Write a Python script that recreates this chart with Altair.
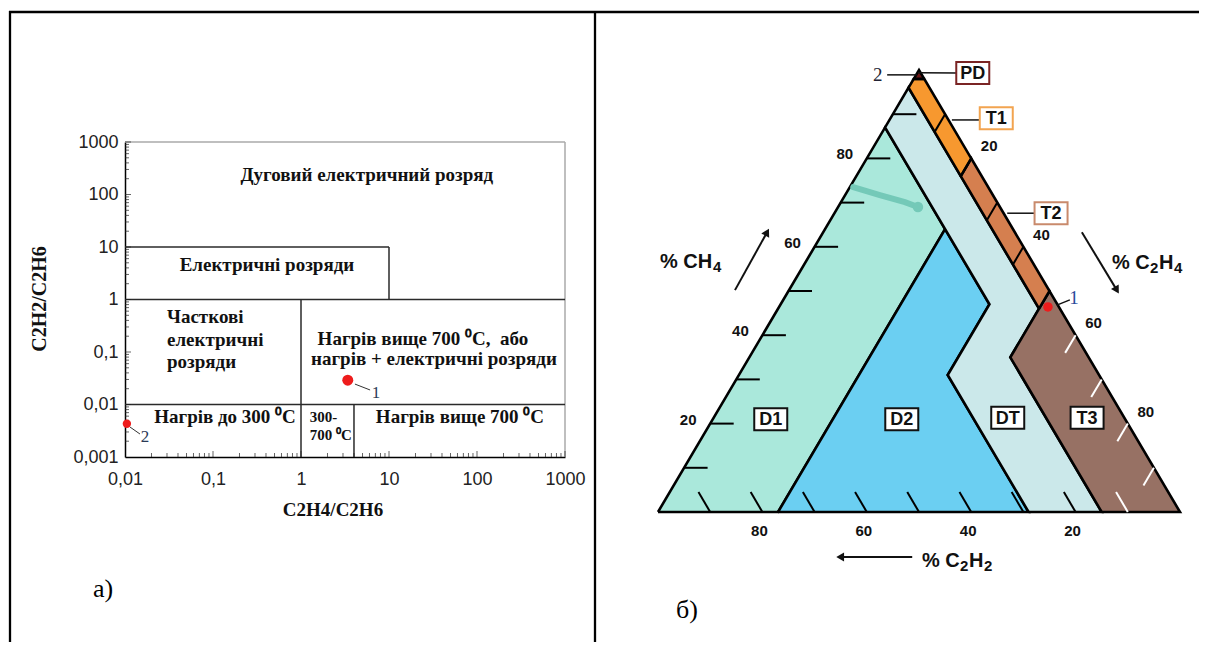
import altair as alt
import pandas as pd

W, H = 1191, 634
M = 8  # page margin

# ---------------- table frame and captions (page pixel space) ----------------
FRAME_X1 = [9, 10, 595]
FRAME_X2 = [1207, 10, 595]
FRAME_Y1 = [12, 11, 11]
FRAME_Y2 = [12, 652, 652]
CAPTIONS = ["а)", "б)"]
CAPTION_X = [103, 687]
CAPTION_Y = [589, 610]
A_TITLES = ["C2H4/C2H6", "C2H2/C2H6"]
A_TITLE_X = [333, 40]
A_TITLE_Y = [510, 299]
A_TITLE_ANGLE = [0, 270]
A_TITLE_SIZE = [19, 20]
# ternary axis titles, written as pieces so that the subscripts sit lower
TT_TEXT = ["% CH", "4", "% C", "2", "H", "4", "% C", "2", "H", "2"]
TT_X = [660, 713, 1112, 1150, 1159, 1174, 922, 960, 969, 984]
TT_Y = [262, 267, 263, 268, 263, 268, 561, 566, 561, 566]
TT_SIZE = [20, 15, 20, 15, 20, 15, 20, 15, 20, 15]

# ---------------- panel а): ratio chart ----------------
A_X_MAJOR = [0.01, 0.1, 1, 10, 100, 1000]
A_Y_MAJOR = [0.001, 0.01, 0.1, 1, 10, 100, 1000]
A_X_MINOR = [m * 10.0 ** e for e in range(-2, 3) for m in range(2, 10)]
A_Y_MINOR = [m * 10.0 ** e for e in range(-3, 3) for m in range(2, 10)]

# zone boundaries
BND_X1 = [0.01, 10, 0.01, 1, 0.01, 4]
BND_X2 = [10, 10, 1000, 1, 1000, 4]
BND_Y1 = [10, 1, 1, 0.001, 0.01, 0.001]
BND_Y2 = [10, 10, 1, 1, 0.01, 0.01]
# grey frame (top and right)
BOX_X1 = [0.01, 1000]
BOX_X2 = [1000, 1000]
BOX_Y1 = [1000, 0.001]
BOX_Y2 = [1000, 1000]

# zone names
ZC_TEXT = ["Дуговий електричний розряд", "Електричні розряди",
           "Нагрів вище 700 ⁰C,\u00a0 або", "нагрів + електричні розряди",
           "Нагрів до 300 ⁰C", "Нагрів вище 700 ⁰C"]
ZC_X = [5.6, 0.41, 24.3, 32.4, 0.137, 64]
ZC_Y = [235, 4.5, 0.177, 0.0736, 0.0058, 0.0058]
ZL_TEXT = ["Часткові", "електричні", "розряди", "300-", "700 ⁰C"]
ZL_X = [0.030, 0.030, 0.030, 1.26, 1.26]
ZL_Y = [0.46, 0.17, 0.065, 0.0058, 0.00262]
ZL_SIZE = [19, 19, 19, 15, 15]

# measured points
PT_X = [3.4, 0.0105]
PT_Y = [0.029, 0.0043]
PT_SIZE = [120, 70]
PT_LABEL = ["1", "2"]
PT_LX = [7.1, 0.0169]
PT_LY = [0.0166, 0.0024]
LEAD_X1 = [4.1, 0.0114]
LEAD_Y1 = [0.0245, 0.00372]
LEAD_X2 = [6.1, 0.0148]
LEAD_Y2 = [0.0189, 0.00274]

# ---------------- panel б): Duval triangle, (%CH4, %C2H4) ----------------
ZONE_PD = [(98, 2), (100, 0), (98, 0)]
ZONE_T1 = [(76, 20), (80, 20), (98, 2), (98, 0), (96, 0)]
ZONE_T2 = [(46, 50), (50, 50), (80, 20), (76, 20)]
ZONE_T3 = [(0, 85), (0, 100), (50, 50), (46, 50), (35, 50)]
ZONE_D1 = [(0, 0), (0, 23), (64, 23), (87, 0)]
ZONE_D2 = [(0, 23), (0, 71), (31, 40), (47, 40), (64, 23)]
ZONE_DT = [(0, 71), (0, 85), (35, 50), (46, 50), (96, 0), (87, 0), (47, 40), (31, 40)]
ZONE_NAMES = ["D1", "D2", "DT", "T3", "T2", "T1", "PD"]
ZONE_COLORS = ["#aae8db", "#6bcff2", "#cbe8ea", "#977164", "#d57f4f", "#f7982f", "#6a1515"]

TICKS_CH4 = [10, 20, 30, 40, 50, 60, 70, 80, 90]
TICKS_C2H2 = [10, 20, 30, 40, 50, 60, 70, 80, 90]
TICKS_C2H4 = [10, 20, 30, 40, 60, 70, 80, 90]
TICK_LABELS = [20, 40, 60, 80]

BOX_NAMES = ["D1", "D2", "DT", "T3", "PD", "T1", "T2"]
BOX_X = [21.6, 46.7, 67.0, 82.2, 60.3, 64.8, 75.3]
BOX_Y = [21.0, 21.0, 21.3, 21.3, 99.3, 89.1, 67.6]
BOX_EDGE = ["#111111", "#111111", "#111111", "#111111", "#7a2424", "#f2a450", "#c98a6c"]

ANN_X1 = [43.9, 49.8, 56.3, 66.9, 76.4]
ANN_X2 = [49.6, 57.5, 61.7, 72.2, 78.9]
ANN_Y1 = [98.9, 99.4, 88.7, 67.6, 46.8]
ANN_Y2 = [98.9, 99.3, 88.7, 67.6, 48.0]
ANN_TEXT = ["2", "1"]
ANN_TX = [42.1, 79.7]
ANN_TY = [98.9, 48.4]
ANN_COLOR = ["#222233", "#2a4a9a"]

POINT1_CH4 = [46.4]
POINT1_C2H4 = [51.5]

ARROW_X1 = [14.75, 81.2, 48.7]
ARROW_Y1 = [50.2, 63.3, -10.2]
ARROW_X2 = [20.9, 87.9, 34.9]
ARROW_Y2 = [63.3, 50.2, -10.2]
ARROW_ANGLE = [29, 149, 270]

SMEAR_X = [37.4, 42.5, 47.3, 49.8]
SMEAR_Y = [73.5, 71.7, 70.1, 69.0]

# ======================= canvas layer =======================
XC = alt.Scale(domain=[M, M + W], range=[0, W], nice=False, zero=False)
YC = alt.Scale(domain=[M, M + H], range=[0, H], nice=False, zero=False)


def cx(f):
    return alt.X(f, type="quantitative", scale=XC, axis=None)


def cy(f):
    return alt.Y(f, type="quantitative", scale=YC, axis=None)


frame = alt.Chart(pd.DataFrame({"x1": FRAME_X1, "x2": FRAME_X2, "y1": FRAME_Y1, "y2": FRAME_Y2})).mark_rule(
    color="black", strokeWidth=2.3).encode(x=cx("x1"), x2="x2", y=cy("y1"), y2="y2")
captions = alt.Chart(pd.DataFrame({"t": CAPTIONS, "x": CAPTION_X, "y": CAPTION_Y})).mark_text(
    font="Liberation Serif", fontSize=26, color="black", baseline="middle").encode(
    x=cx("x"), y=cy("y"), text="t:N")
titles = alt.Chart(pd.DataFrame({"t": A_TITLES, "x": A_TITLE_X, "y": A_TITLE_Y, "a": A_TITLE_ANGLE,
                                 "s": A_TITLE_SIZE})).mark_text(
    font="Liberation Serif", fontWeight="bold", color="#111", baseline="middle").encode(
    x=cx("x"), y=cy("y"), text="t:N", angle=alt.Angle("a:Q", scale=None),
    size=alt.Size("s:Q", scale=None))
tern_titles = alt.Chart(pd.DataFrame({"t": TT_TEXT, "x": TT_X, "y": TT_Y, "s": TT_SIZE})).mark_text(
    font="Liberation Sans", fontWeight="bold", color="#111", baseline="middle", align="left").encode(
    x=cx("x"), y=cy("y"), text="t:N", size=alt.Size("s:Q", scale=None))
canvas = alt.layer(frame, captions, titles, tern_titles)

# ======================= panel а) =======================
XA = alt.Scale(type="log", domain=[0.01, 1000], range=[125 - M, 565 - M], nice=False)
YA = alt.Scale(type="log", domain=[0.001, 1000], range=[457 - M, 142 - M], nice=False)
LBL = "replace(format(datum.value, '~g'), '.', ',')"
AX_XA = alt.Axis(orient="bottom", offset=(457 - M) - H, values=A_X_MAJOR, labelExpr=LBL, ticks=False,
                 tickSize=0, domainColor="black", domainWidth=1.5, labelFont="Liberation Sans",
                 labelFontSize=18, labelColor="#222", labelPadding=13, labelFlush=False,
                 labelOverlap=False, grid=False, title=None)
AX_YA = alt.Axis(orient="left", offset=-(125 - M), values=A_Y_MAJOR, labelExpr=LBL, ticks=False,
                 tickSize=0, domainColor="black", domainWidth=1.5, labelFont="Liberation Sans",
                 labelFontSize=18, labelColor="#222", labelPadding=7, labelOverlap=False,
                 grid=False, title=None)


def ax(f):
    return alt.X(f, type="quantitative", scale=XA, axis=AX_XA)


def ay(f):
    return alt.Y(f, type="quantitative", scale=YA, axis=AX_YA)


box_a = alt.Chart(pd.DataFrame({"x1": BOX_X1, "x2": BOX_X2, "y1": BOX_Y1, "y2": BOX_Y2})).mark_rule(
    color="#aaaaaa", strokeWidth=1.5).encode(x=ax("x1"), x2="x2", y=ay("y1"), y2="y2")
bnd = alt.Chart(pd.DataFrame({"x1": BND_X1, "x2": BND_X2, "y1": BND_Y1, "y2": BND_Y2})).mark_rule(
    color="#2a2a2a", strokeWidth=1.5).encode(x=ax("x1"), x2="x2", y=ay("y1"), y2="y2")
xminor = alt.Chart(pd.DataFrame({"x": A_X_MINOR, "y": [0.001] * len(A_X_MINOR)})).mark_tick(
    orient="vertical", size=4, thickness=1, yOffset=-2, color="#222").encode(x=ax("x"), y=ay("y"))
xmajor = alt.Chart(pd.DataFrame({"x": A_X_MAJOR[1:], "y": [0.001] * (len(A_X_MAJOR) - 1)})).mark_tick(
    orient="vertical", size=6, thickness=1, yOffset=-3, color="#222").encode(x=ax("x"), y=ay("y"))
yminor = alt.Chart(pd.DataFrame({"y": A_Y_MINOR, "x": [0.01] * len(A_Y_MINOR)})).mark_tick(
    orient="horizontal", size=4, thickness=1, xOffset=2, color="#222").encode(x=ax("x"), y=ay("y"))
ymajor = alt.Chart(pd.DataFrame({"y": A_Y_MAJOR[1:], "x": [0.01] * (len(A_Y_MAJOR) - 1)})).mark_tick(
    orient="horizontal", size=6, thickness=1, xOffset=3, color="#222").encode(x=ax("x"), y=ay("y"))
ztc = alt.Chart(pd.DataFrame({"t": ZC_TEXT, "x": ZC_X, "y": ZC_Y})).mark_text(
    font="Liberation Serif", fontWeight="bold", fontSize=19, color="#111", align="center",
    baseline="middle").encode(x=ax("x"), y=ay("y"), text="t:N")
ztl = alt.Chart(pd.DataFrame({"t": ZL_TEXT, "x": ZL_X, "y": ZL_Y, "s": ZL_SIZE})).mark_text(
    font="Liberation Serif", fontWeight="bold", color="#111", align="left",
    baseline="middle").encode(x=ax("x"), y=ay("y"), text="t:N", size=alt.Size("s:Q", scale=None))
lead_a = alt.Chart(pd.DataFrame({"x1": LEAD_X1, "x2": LEAD_X2, "y1": LEAD_Y1, "y2": LEAD_Y2})).mark_rule(
    color="#333", strokeWidth=1).encode(x=ax("x1"), x2="x2", y=ay("y1"), y2="y2")
pts_a = alt.Chart(pd.DataFrame({"x": PT_X, "y": PT_Y, "s": PT_SIZE})).mark_circle(
    color="#ee1c1c", opacity=1).encode(x=ax("x"), y=ay("y"), size=alt.Size("s:Q", scale=None))
plbl_a = alt.Chart(pd.DataFrame({"t": PT_LABEL, "x": PT_LX, "y": PT_LY})).mark_text(
    font="Liberation Serif", fontSize=17, color="#2b3a55", baseline="middle").encode(
    x=ax("x"), y=ay("y"), text="t:N")
panel_a = alt.layer(box_a, bnd, xminor, xmajor, yminor, ymajor, ztc, ztl, lead_a, pts_a, plbl_a)

# ======================= panel б) =======================
XT = alt.Scale(domain=[0, 100], range=[658 - M, 1180 - M], nice=False, zero=False)
YT = alt.Scale(domain=[0, 100], range=[512 - M, 70 - M], nice=False, zero=False)


def tx(f):
    return alt.X(f, type="quantitative", scale=XT, axis=None)


def ty(f):
    return alt.Y(f, type="quantitative", scale=YT, axis=None)


rows = []
for name, col, verts in zip(ZONE_NAMES, ZONE_COLORS,
                            [ZONE_D1, ZONE_D2, ZONE_DT, ZONE_T3, ZONE_T2, ZONE_T1, ZONE_PD]):
    for i, (a, b) in enumerate(verts + [verts[0]]):
        rows.append({"zone": name, "i": i, "ch4": a, "c2h4": b, "color": col})
zone_df = pd.DataFrame(rows)
zones = alt.Chart(zone_df).transform_calculate(
    X="datum.c2h4 + datum.ch4 / 2", Y="datum.ch4").mark_line(
    stroke="black", strokeWidth=2.6, strokeJoin="miter").encode(
    x=tx("X"), y=ty("Y"), order="i:Q", detail="zone:N", fill=alt.Fill("color:N", scale=None))

smear = alt.Chart(pd.DataFrame({"X": SMEAR_X, "Y": SMEAR_Y, "i": list(range(len(SMEAR_X)))})).mark_line(
    color="#74c9b8", strokeWidth=6, strokeCap="round").encode(x=tx("X"), y=ty("Y"), order="i:Q")
smear_end = alt.Chart(pd.DataFrame({"X": SMEAR_X[-1:], "Y": SMEAR_Y[-1:]})).mark_circle(
    color="#74c9b8", size=110, opacity=1).encode(x=tx("X"), y=ty("Y"))

TL = 4.5
trows = []
for a in TICKS_CH4:
    trows.append({"a1": a, "b1": 0, "a2": a, "b2": TL, "col": "black"})
for c in TICKS_C2H2:
    trows.append({"a1": 0, "b1": 100 - c, "a2": TL, "b2": 100 - c - TL,
                  "col": "white" if c < 15 else "black"})
for b in TICKS_C2H4:
    trows.append({"a1": 100 - b, "b1": b, "a2": 100 - b - 4, "b2": b,
                  "col": "white" if b > 50 else "black"})
ticks_t = alt.Chart(pd.DataFrame(trows)).transform_calculate(
    X1="datum.b1 + datum.a1 / 2", Y1="datum.a1", X2="datum.b2 + datum.a2 / 2", Y2="datum.a2").mark_rule(
    strokeWidth=2).encode(x=tx("X1"), x2="X2", y=ty("Y1"), y2="Y2", color=alt.Color("col:N", scale=None))

TFONT = dict(font="Liberation Sans", fontWeight="bold", fontSize=15, color="#111", baseline="middle")
lbl_left = alt.Chart(pd.DataFrame({"ch4": TICK_LABELS, "c2h4": [0] * 4, "t": [str(v) for v in TICK_LABELS]})
                     ).transform_calculate(X="datum.c2h4 + datum.ch4 / 2", Y="datum.ch4").mark_text(
    dx=-22, dy=-4, **TFONT).encode(x=tx("X"), y=ty("Y"), text="t:N")
lbl_bottom = alt.Chart(pd.DataFrame({"ch4": [0] * 4, "c2h4": [100 - v for v in TICK_LABELS],
                                     "t": [str(v) for v in TICK_LABELS]})
                       ).transform_calculate(X="datum.c2h4 + datum.ch4 / 2", Y="datum.ch4").mark_text(
    dx=-3, dy=19, **TFONT).encode(x=tx("X"), y=ty("Y"), text="t:N")
lbl_right = alt.Chart(pd.DataFrame({"ch4": [100 - v for v in TICK_LABELS], "c2h4": TICK_LABELS,
                                    "t": [str(v) for v in TICK_LABELS]})
                      ).transform_calculate(X="datum.c2h4 + datum.ch4 / 2", Y="datum.ch4").mark_text(
    dx=18, dy=-12, **TFONT).encode(x=tx("X"), y=ty("Y"), text="t:N")

ann = alt.Chart(pd.DataFrame({"x1": ANN_X1, "x2": ANN_X2, "y1": ANN_Y1, "y2": ANN_Y2})).mark_rule(
    color="#111", strokeWidth=1.5).encode(x=tx("x1"), x2="x2", y=ty("y1"), y2="y2")
boxes = alt.Chart(pd.DataFrame({"X": BOX_X, "Y": BOX_Y, "e": BOX_EDGE})).mark_point(
    shape="M-1,-0.667H1V0.667H-1Z", size=1089, filled=True, fill="white", strokeWidth=2,
    opacity=1).encode(x=tx("X"), y=ty("Y"), stroke=alt.Stroke("e:N", scale=None))
box_txt = alt.Chart(pd.DataFrame({"X": BOX_X, "Y": BOX_Y, "t": BOX_NAMES})).mark_text(
    font="Liberation Sans", fontWeight="bold", fontSize=18, color="#111", baseline="middle", dy=1).encode(
    x=tx("X"), y=ty("Y"), text="t:N")
ann_txt = alt.Chart(pd.DataFrame({"X": ANN_TX, "Y": ANN_TY, "t": ANN_TEXT, "c": ANN_COLOR})).mark_text(
    font="Liberation Serif", fontSize=19, baseline="middle").encode(
    x=tx("X"), y=ty("Y"), text="t:N", color=alt.Color("c:N", scale=None))
pt1 = alt.Chart(pd.DataFrame({"ch4": POINT1_CH4, "c2h4": POINT1_C2H4})).transform_calculate(
    X="datum.c2h4 + datum.ch4 / 2", Y="datum.ch4").mark_circle(color="#ee1c1c", size=90, opacity=1).encode(
    x=tx("X"), y=ty("Y"))

arrows = alt.Chart(pd.DataFrame({"x1": ARROW_X1, "x2": ARROW_X2, "y1": ARROW_Y1, "y2": ARROW_Y2})).mark_rule(
    color="#111", strokeWidth=2).encode(x=tx("x1"), x2="x2", y=ty("y1"), y2="y2")
heads = alt.Chart(pd.DataFrame({"X": ARROW_X2, "Y": ARROW_Y2, "a": ARROW_ANGLE})).mark_point(
    shape="triangle-up", size=80, filled=True, color="#111", opacity=1).encode(
    x=tx("X"), y=ty("Y"), angle=alt.Angle("a:Q", scale=None))

panel_b = alt.layer(zones, smear, smear_end, ticks_t, lbl_left, lbl_bottom, lbl_right, ann, boxes,
                    box_txt, ann_txt, pt1, arrows, heads)

chart = alt.layer(canvas, panel_a, panel_b).resolve_scale(
    x="independent", y="independent").properties(
    width=W, height=H, padding=0, autosize="none", background="white").configure_view(stroke=None)

chart.save("out.html", embed_options={"renderer": "svg", "actions": False})
